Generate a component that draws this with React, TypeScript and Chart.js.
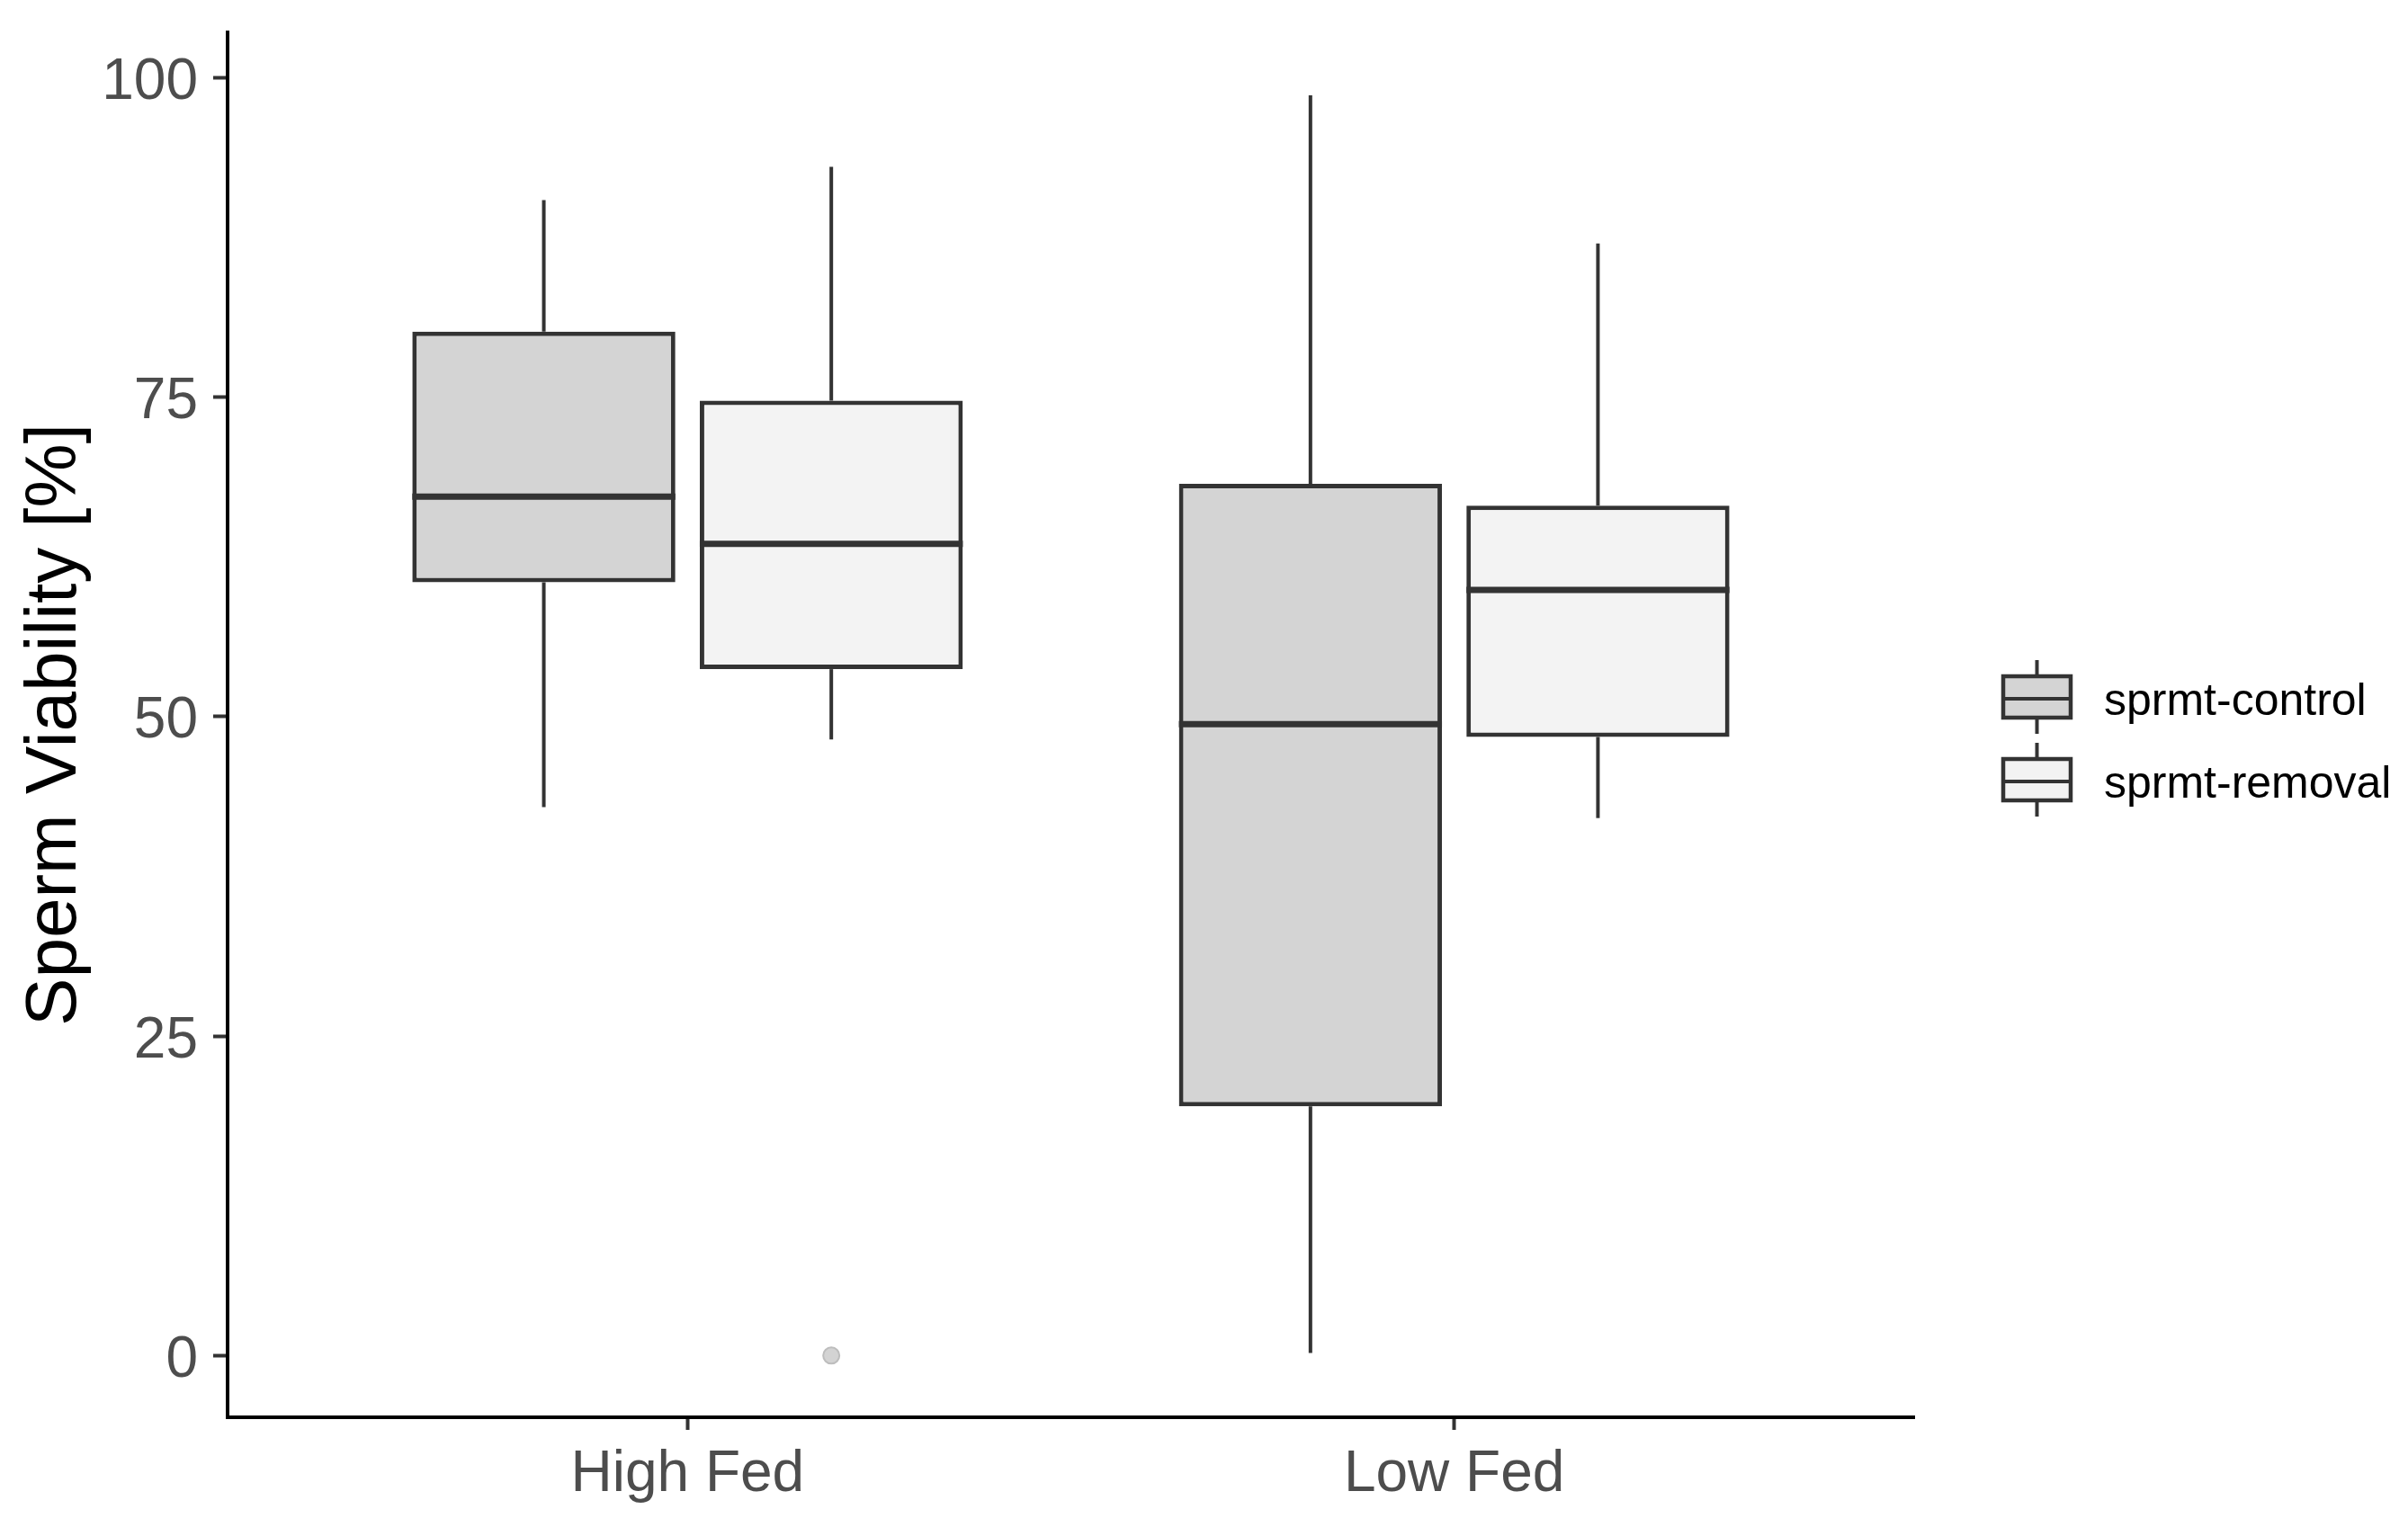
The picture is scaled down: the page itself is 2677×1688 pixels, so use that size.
import React, { useEffect, useRef } from 'react';
import { Chart, registerables } from 'chart.js';

Chart.register(...registerables);

// ---------- data ----------
const categories = ['High Fed', 'Low Fed'];
const seriesNames = ['sprmt-control', 'sprmt-removal'];

const controlMin = [42.9, 0.2];
const controlQ1 = [60.5, 19.5];
const controlMedian = [67.2, 49.4];
const controlQ3 = [80.1, 68.2];
const controlMax = [90.4, 98.6];
const controlOutliers: number[][] = [[], []];

const removalMin = [48.2, 42.05];
const removalQ1 = [53.7, 48.4];
const removalMedian = [63.5, 59.9];
const removalQ3 = [74.7, 66.5];
const removalMax = [93.0, 87.0];
const removalOutliers: number[][] = [[0], []];

const yTicks = [0, 25, 50, 75, 100];
const yMin = -4.83;
const yMax = 103.52;
const xMin = 0.4;
const xMax = 2.6;

// ---------- styling ----------
const FONT = '"Liberation Sans", Arial, sans-serif';
const fills = ['#D4D4D4', '#F3F3F3'];
const LINE = '#333333';

type Stats = { min: number[]; q1: number[]; med: number[]; q3: number[]; max: number[]; out: number[][] };
const stats: Stats[] = [
  { min: controlMin, q1: controlQ1, med: controlMedian, q3: controlQ3, max: controlMax, out: controlOutliers },
  { min: removalMin, q1: removalQ1, med: removalMedian, q3: removalQ3, max: removalMax, out: removalOutliers },
];

const boxPlugin = {
  id: 'boxExtras',
  afterDatasetsDraw(chart: any) {
    const ctx: CanvasRenderingContext2D = chart.ctx;
    const ys = chart.scales.y;
    const line = (x1: number, y1: number, x2: number, y2: number) => {
      ctx.beginPath();
      ctx.moveTo(x1, y1);
      ctx.lineTo(x2, y2);
      ctx.stroke();
    };
    ctx.save();
    ctx.lineCap = 'butt';
    stats.forEach((s, di) => {
      const meta = chart.getDatasetMeta(di);
      meta.data.forEach((el: any, i: number) => {
        const { x, width } = el.getProps(['x', 'width'], true);
        ctx.strokeStyle = LINE;
        ctx.lineWidth = 4;
        line(x, ys.getPixelForValue(s.q3[i]), x, ys.getPixelForValue(s.max[i]));
        line(x, ys.getPixelForValue(s.q1[i]), x, ys.getPixelForValue(s.min[i]));
        ctx.lineWidth = 7;
        const my = ys.getPixelForValue(s.med[i]);
        line(x - width / 2, my, x + width / 2, my);
        s.out[i].forEach((v) => {
          ctx.beginPath();
          ctx.arc(x, ys.getPixelForValue(v), 9, 0, Math.PI * 2);
          ctx.fillStyle = '#D3D3D3';
          ctx.fill();
          ctx.lineWidth = 2;
          ctx.strokeStyle = '#BDBDBD';
          ctx.stroke();
        });
      });
    });
    ctx.restore();
  },
  afterDraw(chart: any) {
    const ctx: CanvasRenderingContext2D = chart.ctx;
    const area = chart.chartArea;
    ctx.save();
    const boxLeft = area.right + 99;
    const boxW = 75;
    const boxH = 46;
    const cx = boxLeft + boxW / 2;
    seriesNames.forEach((name, i) => {
      const cy = area.top + 739 + i * 92;
      ctx.strokeStyle = LINE;
      ctx.lineWidth = 4;
      ctx.beginPath();
      ctx.moveTo(cx, cy - 41);
      ctx.lineTo(cx, cy + 41);
      ctx.stroke();
      ctx.fillStyle = fills[i];
      ctx.fillRect(boxLeft, cy - boxH / 2, boxW, boxH);
      ctx.lineWidth = 4.5;
      ctx.strokeRect(boxLeft, cy - boxH / 2, boxW, boxH);
      ctx.lineWidth = 4;
      ctx.beginPath();
      ctx.moveTo(boxLeft, cy + 2);
      ctx.lineTo(boxLeft + boxW, cy + 2);
      ctx.stroke();
      ctx.fillStyle = '#000000';
      ctx.font = `50px ${FONT}`;
      ctx.textAlign = 'left';
      ctx.textBaseline = 'middle';
      ctx.fillText(name, area.right + 211, cy + 6);
    });
    ctx.restore();
  },
};

export default function App() {
  const ref = useRef<HTMLCanvasElement | null>(null);

  useEffect(() => {
    if (!ref.current) return;
    Chart.defaults.font.family = FONT;
    const datasets = stats.map((s, di) => ({
      label: seriesNames[di],
      data: categories.map((_, i) => ({ x: i + 1, y: [s.q1[i], s.q3[i]] })),
      backgroundColor: fills[di],
      borderColor: LINE,
      borderWidth: 5,
      borderSkipped: false,
      categoryPercentage: 0.75,
      barPercentage: 0.915,
    }));
    const chart = new Chart(ref.current, {
      type: 'bar',
      data: { datasets } as any,
      plugins: [boxPlugin],
      options: {
        animation: false,
        responsive: true,
        maintainAspectRatio: false,
        devicePixelRatio: 1,
        events: [],
        layout: { padding: { top: 36, right: 549, left: 0, bottom: 0 } },
        plugins: { legend: { display: false }, tooltip: { enabled: false } },
        scales: {
          x: {
            type: 'linear',
            min: xMin,
            max: xMax,
            offset: false,
            afterBuildTicks: (scale: any) => {
              scale.ticks = categories.map((_, i) => ({ value: i + 1 }));
            },
            afterFit: (scale: any) => {
              scale.height = 112;
              scale.paddingLeft = 0;
              scale.paddingRight = 0;
              scale.paddingTop = 0;
              scale.paddingBottom = 0;
            },
            ticks: {
              autoSkip: false,
              maxRotation: 0,
              padding: 12,
              color: '#4D4D4D',
              font: { size: 64, family: FONT },
              callback: (v: any) => categories[Math.round(Number(v)) - 1] ?? '',
            },
            grid: {
              display: true,
              offset: false,
              drawOnChartArea: false,
              drawTicks: true,
              tickLength: 14,
              tickWidth: 4,
              tickColor: LINE,
            },
            border: { display: true, color: '#000000', width: 4 },
          },
          y: {
            type: 'linear',
            min: yMin,
            max: yMax,
            afterBuildTicks: (scale: any) => {
              scale.ticks = yTicks.map((v) => ({ value: v }));
            },
            afterFit: (scale: any) => {
              scale.width = 253;
              scale.paddingTop = 0;
              scale.paddingBottom = 0;
              scale.paddingLeft = 0;
              scale.paddingRight = 0;
            },
            ticks: {
              padding: 17,
              labelOffset: 6,
              color: '#4D4D4D',
              font: { size: 64, family: FONT },
              callback: (v: any) => String(v),
            },
            grid: {
              display: true,
              drawOnChartArea: false,
              drawTicks: true,
              tickLength: 16,
              tickWidth: 4,
              tickColor: LINE,
            },
            border: { display: true, color: '#000000', width: 4 },
            title: {
              display: true,
              text: 'Sperm Viability [%]',
              color: '#000000',
              font: { size: 80, family: FONT },
              padding: { top: 14, bottom: 0 },
            },
          },
        },
      } as any,
    });
    return () => chart.destroy();
  }, []);

  return (
    <div style={{ position: 'fixed', left: 0, top: 0, width: '2677px', height: '1688px', background: '#ffffff' }}>
      <canvas ref={ref} />
    </div>
  );
}
